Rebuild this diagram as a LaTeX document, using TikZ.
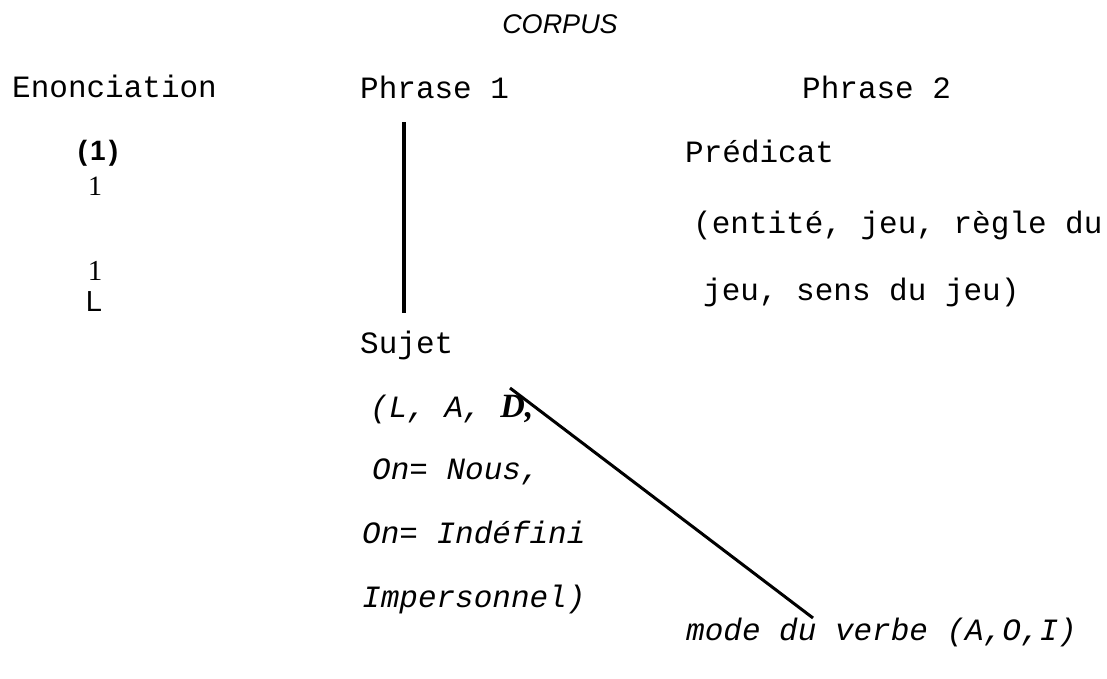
\documentclass[tikz,border=0pt]{standalone}
\usepackage{fontspec}
\setmainfont{Liberation Serif}
\setsansfont{Liberation Sans}
\setmonofont{Liberation Mono}
\usetikzlibrary{positioning}

\begin{document}
\begin{tikzpicture}[x=1pt, y=-1pt]
        \tikzstyle{mono} = [font=\ttfamily\fontsize{31}{36}\selectfont, inner sep=0pt, anchor=base west]
        \tikzstyle{monoit} = [font=\ttfamily\itshape\fontsize{31}{36}\selectfont, inner sep=0pt, anchor=base west]
        \tikzstyle{mark1} = [inner sep=0pt]
        \tikzstyle{bar} = [line width=3.5pt]
        \useasboundingbox (0,0) rectangle (1107,678);

        \node (corpus) [inner sep=0pt, anchor=base, font=\sffamily\itshape\fontsize{27}{30}\selectfont] at (560,33) {CORPUS};

        \node (enonc) [mono] at (12,97) {Enonciation};
        \node (phrase1) [mono] at (360,98) {Phrase 1};
        \node (phrase2) [mono] at (802,98) {Phrase 2};

        % colonne de gauche
        \node (num) [mark1, font=\sffamily\bfseries\fontsize{28}{30}\selectfont] at (98,153) {(\kern3pt1\kern3pt)};
        \node (un) [mark1, font=\rmfamily\fontsize{28}{30}\selectfont] at (95,186) {1};
        \node (deux) [mark1, font=\rmfamily\fontsize{29}{30}\selectfont] at (95,271) {1};
        \node (lettre) [mark1, font=\sffamily\fontsize{29}{30}\selectfont] at (94,302) {L};

        % predicat
        \node (predicat) [mono] at (685,162) {Prédicat};
        \node (pred1) [mono] at (693,233) {(entité, jeu, règle du};
        \node (pred2) [mono] at (703,300) {jeu, sens du jeu)};

        % sujet
        \node (sujet) [mono] at (360,353) {Sujet};
        \node (suj1) [monoit] at (370,417) {(L, A, {\rmfamily\bfseries\fontsize{34}{36}\selectfont D,}};
        \node (suj2) [monoit] at (372,479) {On= Nous,};
        \node (suj3) [monoit] at (362,543) {On= Indéfini};
        \node (suj4) [monoit] at (362,607) {Impersonnel)};
        \node (mode) [monoit] at (686,640) {mode du verbe (A,O,I)};

        \coordinate (vtop) at (404,122);
        \coordinate (vbot) at (404,313);
        \coordinate (dtop) at (510,388);
        \coordinate (dbot) at (813,618);

        \draw [bar] (vtop) -- (vbot);
        \draw [bar, line width=3pt] (dtop) -- (dbot);
    \end{tikzpicture}
\end{document}
